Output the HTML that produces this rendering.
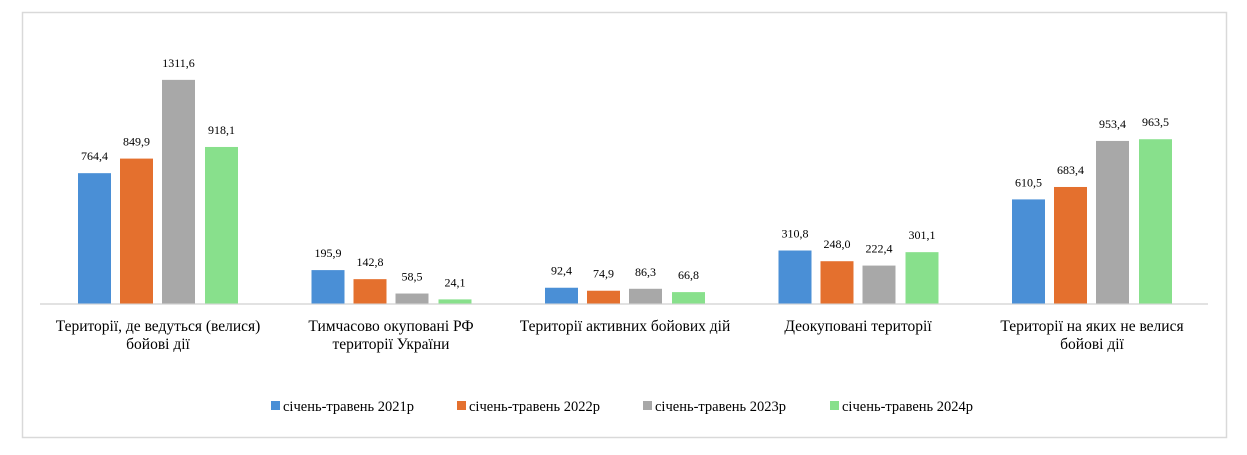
<!DOCTYPE html>
<html><head><meta charset="utf-8"><style>body{margin:0;background:#fff}</style></head><body>
<svg width="1247" height="450" xmlns="http://www.w3.org/2000/svg" font-family="Liberation Serif, serif">
<rect x="0" y="0" width="1247" height="450" fill="#fff"/>
<rect x="22.5" y="12.5" width="1204" height="425" fill="none" stroke="#d9d9d9" stroke-width="1.5"/>
<line x1="40" y1="304" x2="1208" y2="304" stroke="#d9d9d9" stroke-width="1.5"/>
<g id="bars" font-size="12" text-anchor="middle" fill="#000"></g>
<g font-size="15.5" text-anchor="middle" fill="#000">
<text x="158" y="331">Території, де ведуться (велися)</text><text x="158" y="349">бойові дії</text>
<text x="391" y="331">Тимчасово окуповані РФ</text><text x="391" y="349">території України</text>
<text x="625" y="331">Території активних бойових дій</text>
<text x="858" y="331">Деокуповані території</text>
<text x="1092" y="331">Території на яких не велися</text><text x="1092" y="349">бойові дії</text>
</g>
<g font-size="14.5" fill="#000">
<rect x="271" y="401" width="9" height="9" fill="#4a8fd6"/><text x="283" y="411">січень-травень 2021р</text>
<rect x="457" y="401" width="9" height="9" fill="#e4702e"/><text x="469" y="411">січень-травень 2022р</text>
<rect x="643" y="401" width="9" height="9" fill="#a8a8a8"/><text x="655" y="411">січень-травень 2023р</text>
<rect x="830" y="401" width="9" height="9" fill="#88e08c"/><text x="842" y="411">січень-травень 2024р</text>
</g>
</svg>
<script>
const d=[[764.4,849.9,1311.6,918.1],[195.9,142.8,58.5,24.1],[92.4,74.9,86.3,66.8],[310.8,248.0,222.4,301.1],[610.5,683.4,953.4,963.5]];
const c=["#4a8fd6","#e4702e","#a8a8a8","#88e08c"];
const g=document.getElementById('bars');let s='';
const off=[78,120,162,205],k=0.1705,base=303.5;
d.forEach((r,i)=>r.forEach((v,j)=>{const x=off[j]+i*233.5,h=v*k,y=base-h;
s+=`<rect x="${x}" y="${y}" width="33" height="${h}" fill="${c[j]}"/>`;
s+=`<text x="${x+16.5}" y="${y-13}">${v.toFixed(1).replace('.',',')}</text>`;}));
g.innerHTML=s;
</script>
</body></html>
